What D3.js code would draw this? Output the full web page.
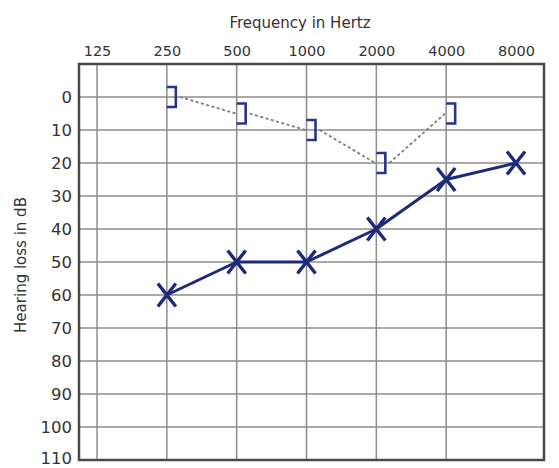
<!DOCTYPE html>
<html>
<head>
<meta charset="utf-8">
<script src="https://cdn.jsdelivr.net/npm/d3@7"></script>
<style>
  body { margin: 0; background: #fff; }
  text { font-family: "DejaVu Sans", sans-serif; fill: #333; }
</style>
</head>
<body>
<script>
// data
const freqs = [125, 250, 500, 1000, 2000, 4000, 8000];
const gridFreqs = [125, 250, 500, 1000, 2000, 4000];
const dbTicks = [0, 10, 20, 30, 40, 50, 60, 70, 80, 90, 100, 110];
const gridDb = [0, 10, 20, 30, 40, 50, 60, 70, 80, 90, 100];
// air conduction (X)
const acFreqs = [250, 500, 1000, 2000, 4000, 8000];
const acValues = [60, 50, 50, 40, 25, 20];
// bone conduction (])
const bcFreqs = [250, 500, 1000, 2000, 4000];
const bcValues = [0, 5, 10, 20, 5];

const W = 559, H = 468;
const frame = {left: 79, right: 544};

const x = d3.scaleLog().domain([125, 8000]).range([97, 516]);
const y = d3.scaleLinear().domain([-10, 110]).range([64, 460]);

const svg = d3.select("body").append("svg")
  .attr("width", W)
  .attr("height", H);

//grid
svg.append("g")
  .selectAll("line")
  .data(gridDb)
  .join("line")
  .attr("x1", frame.left).attr("x2", frame.right)
  .attr("y1", d => y(d)).attr("y2", d => y(d))
  .attr("stroke", "#8c8c8c")
  .attr("stroke-width", 1.5);

svg.append("g")
  .selectAll("line")
  .data(gridFreqs)
  .join("line")
  .attr("x1", d => x(d)).attr("x2", d => x(d))
  .attr("y1", y(-10)).attr("y2", y(110))
  .attr("stroke", "#8c8c8c")
  .attr("stroke-width", 1.5);

//frame
svg.append("rect")
  .attr("x", frame.left)
  .attr("y", y(-10))
  .attr("width", frame.right - frame.left)
  .attr("height", y(110) - y(-10))
  .attr("fill", "none")
  .attr("stroke", "#4a4a4a")
  .attr("stroke-width", 2.5);

//axes
const xAxis = svg.append("g")
  .attr("transform", "translate(0,56)")
  .call(d3.axisTop(x).tickValues(freqs).tickFormat(d3.format("d")).tickSize(0).tickPadding(0));
xAxis.select(".domain").remove();
xAxis.selectAll("text").style("font-size", "14.5px").attr("fill", "#2a2a2a");

const yAxis = svg.append("g")
  .attr("transform", "translate(72,0)")
  .call(d3.axisLeft(y).tickValues(dbTicks).tickSize(0).tickPadding(0));
yAxis.select(".domain").remove();
yAxis.selectAll("text").style("font-size", "16.5px").attr("fill", "#2a2a2a");
// keep the bottom label inside the picture
yAxis.selectAll("text").filter(d => d === 110).attr("dy", "0.2em");

svg.append("text")
  .attr("x", 300)
  .attr("y", 28)
  .attr("text-anchor", "middle")
  .style("font-size", "15px")
  .attr("fill", "#222")
  .text("Frequency in Hertz");

svg.append("text")
  .attr("transform", "translate(26,265) rotate(-90)")
  .attr("text-anchor", "middle")
  .style("font-size", "15px")
  .attr("fill", "#222")
  .text("Hearing loss in dB");

//bone conduction dashed line
const bc = bcFreqs.map((f, i) => ({f, v: bcValues[i]}));
const bw = 9, bh = 20;

svg.append("g")
  .selectAll("line")
  .data(d3.pairs(bc))
  .join("line")
  .attr("x1", d => x(d[0].f) + bw + 4)
  .attr("y1", d => y(d[0].v))
  .attr("x2", d => x(d[1].f) - 1)
  .attr("y2", d => y(d[1].v))
  .attr("stroke", "#7d7d7d")
  .attr("stroke-width", 1.8)
  .attr("stroke-dasharray", "3,2.5");

svg.append("g")
  .selectAll("path")
  .data(bc)
  .join("path")
  .attr("d", d => {
    const x0 = x(d.f), y0 = y(d.v);
    return "M" + x0 + "," + (y0 - bh / 2) + "H" + (x0 + bw) + "V" + (y0 + bh / 2) + "H" + x0;
  })
  .attr("fill", "none")
  .attr("stroke", "#27338f")
  .attr("stroke-width", 2.6);

//air conduction line
const ac = acFreqs.map((f, i) => ({f, v: acValues[i]}));
const line = d3.line()
  .x(d => x(d.f))
  .y(d => y(d.v));

svg.append("path")
  .datum(ac)
  .attr("d", line)
  .attr("fill", "none")
  .attr("stroke", "#1d2a7c")
  .attr("stroke-width", 3)
  .attr("stroke-linejoin", "round");

const hw = 9, hh = 11.5;
svg.append("g")
  .selectAll("path")
  .data(ac)
  .join("path")
  .attr("d", d => {
    const x0 = x(d.f), y0 = y(d.v);
    return "M" + (x0 - hw) + "," + (y0 - hh) + "L" + (x0 + hw) + "," + (y0 + hh) +
           "M" + (x0 + hw) + "," + (y0 - hh) + "L" + (x0 - hw) + "," + (y0 + hh);
  })
  .attr("fill", "none")
  .attr("stroke", "#1d2a7c")
  .attr("stroke-width", 3.4);
</script>
</body>
</html>
